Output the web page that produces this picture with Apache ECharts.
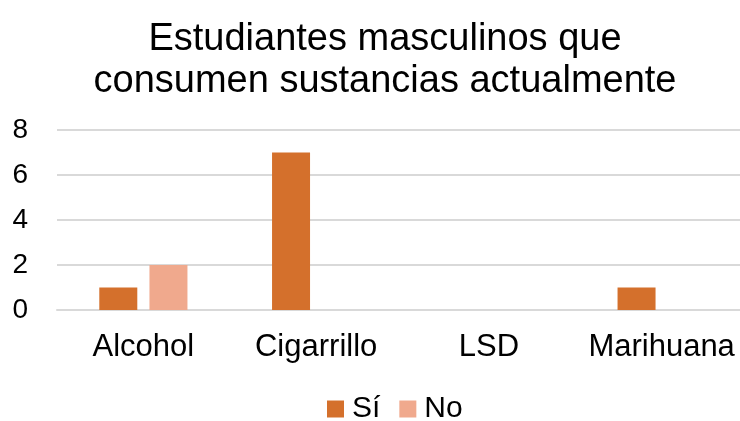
<!DOCTYPE html>
<html>
<head>
<meta charset="utf-8">
<script src="https://cdn.jsdelivr.net/npm/echarts@6/dist/echarts.min.js"></script>
<style>
  html, body { margin: 0; padding: 0; background: #fff; }
  #chart { width: 740px; height: 421px; }
</style>
</head>
<body>
<div id="chart"></div>
<script>
// datos del gráfico
var categorias = ['Alcohol', 'Cigarrillo', 'LSD', 'Marihuana'];
var valoresSi = [1, 7, 0, 1];
var valoresNo = [2, 0, 0, 0];
var ticksY = [0, 2, 4, 6, 8];

var chart = echarts.init(document.getElementById('chart'));
var fuente = '"Liberation Sans", Arial, sans-serif';

var option = {
  backgroundColor: '#ffffff',
  title: {
    text: 'Estudiantes masculinos que\nconsumen sustancias actualmente',
    left: 380,
    textAlign: 'center',
    top: 14,
    textStyle: {
      fontFamily: fuente,
      fontSize: 38,
      fontWeight: 'normal',
      color: '#000',
      lineHeight: 42
    }
  },
  legend: {
    data: ['Sí', 'No'],
    bottom: -8,
    left: 322,
    itemWidth: 17,
    itemHeight: 17,
    itemGap: 19,
    icon: 'rect',
    textStyle: { fontFamily: fuente, fontSize: 30, color: '#000', padding: [0, 0, 0, 3] }
  },
  grid: {
    left: 57,
    right: -8,
    top: 130,
    bottom: 111,
    outerBoundsMode: 'none'
  },
  xAxis: {
    type: 'category',
    data: categorias,
    axisLine: { show: true, lineStyle: { color: '#d9d9d9', width: 2 } },
    axisTick: { show: false },
    axisLabel: { interval: 0, fontFamily: fuente, fontSize: 31, color: '#000', margin: 22 }
  },
  yAxis: {
    type: 'value',
    min: ticksY[0],
    max: ticksY[ticksY.length - 1],
    interval: 2,
    axisLine: { show: false },
    axisTick: { show: false },
    splitLine: { lineStyle: { color: '#d9d9d9', width: 2 } },
    axisLabel: { fontFamily: fuente, fontSize: 28, color: '#000', margin: 29 }
  },
  series: [{
    name: 'Sí',
    type: 'bar',
    data: valoresSi,
    barWidth: 38,
    barGap: '32%',
    itemStyle: { color: '#d4702c' }
  }, {
    name: 'No',
    type: 'bar',
    data: valoresNo,
    barWidth: 38,
    itemStyle: { color: '#f0a98d' }
  }]
};
chart.setOption(option);
</script>
</body>
</html>
